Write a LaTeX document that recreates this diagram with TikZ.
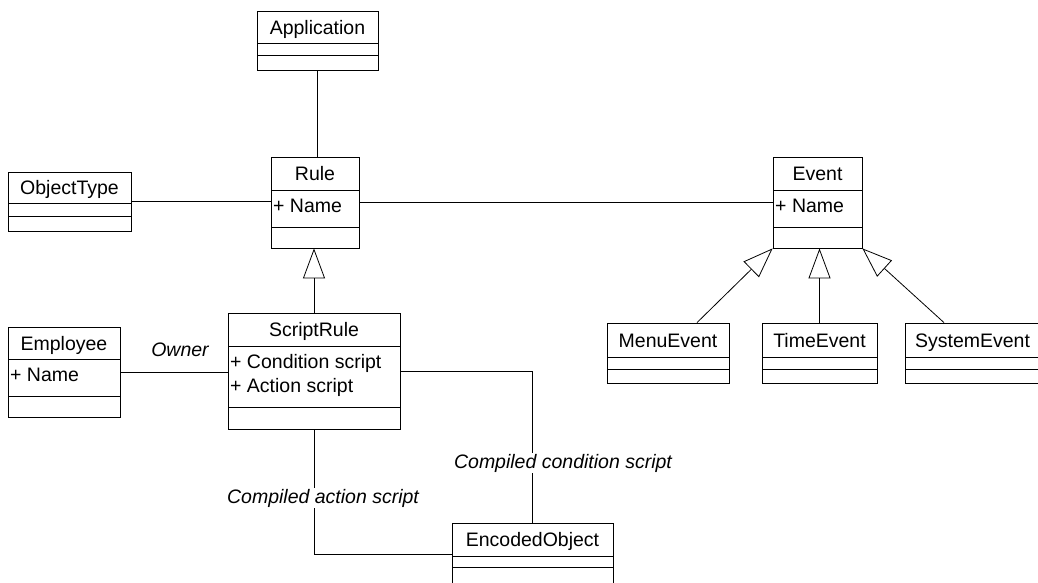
\documentclass[tikz,border=0pt]{standalone}
\usepackage{fontspec}
\setmainfont{Liberation Sans}
\usetikzlibrary{arrows.meta,fit}
\tikzset{
 box/.style={draw, line width=0.8pt, inner sep=0pt},
 sepline/.style={line width=0.8pt},
 conn/.style={line width=0.8pt},
 gen/.style={conn, -{Triangle[open, length=30pt, width=22pt, line width=0.8pt]}},
 ttl/.style={anchor=base, inner sep=0pt, font=\fontsize{19.5}{23}\selectfont},
 attr/.style={anchor=base west, inner sep=0pt, font=\fontsize{19.5}{23}\selectfont},
 lbl/.style={font=\fontsize{19.5}{23}\selectfont\itshape, inner sep=1pt},
 lblw/.style={lbl, fill=white},
}
\newcommand\umlclass[8]{%
 \node[box, fit={(#2,#3)(#4,#7)}] (#1) {};
 \draw[sepline] (#2,#5) -- (#4,#5);
 \draw[sepline] (#2,#6) -- (#4,#6);
 \node[ttl] (#1-t) at ({(#2+#4)/2},{(#3+#5)/2+7}) {#8};
}
\begin{document}
\begin{tikzpicture}[x=1pt,y=-1pt]
\useasboundingbox (0,0) rectangle (1038,582);
\begin{scope}
\clip (0,0) rectangle (1038,582);
% classes: name, left, top, right, line1, line2, bottom, title
\umlclass{app}{257}{11}{378}{43}{55}{70}{Application}
\umlclass{rule}{271}{157}{359}{190}{227}{248}{Rule}
\umlclass{event}{773}{157}{862}{190}{227}{248}{Event}
\umlclass{ot}{8}{172}{131}{203}{216}{231}{ObjectType}
\umlclass{emp}{8}{327}{120}{359}{396}{417}{Employee}
\umlclass{sr}{228}{313}{400}{346}{407}{429}{ScriptRule}
\umlclass{me}{607}{323}{729}{357}{369}{383}{MenuEvent}
\umlclass{te}{762}{323}{877}{357}{369}{383}{TimeEvent}
\umlclass{se}{905}{323}{1040}{357}{369}{383}{SystemEvent}
\umlclass{eo}{452}{523}{613}{556}{567}{585}{EncodedObject}
% attributes
\node[attr] (rule-a1) at (273,212) {+ Name};
\node[attr] (event-a1) at (775,212) {+ Name};
\node[attr] (emp-a1) at (10,381) {+ Name};
\node[attr] (sr-a1) at (230,368) {+ Condition script};
\node[attr] (sr-a2) at (230,392) {+ Action script};
% connectors
\draw[conn] (app.south) -- (app.south |- rule.north);
\draw[conn] (ot.east) -- (ot.east -| rule.west);
\draw[conn] (rule.east) -- (rule.east -| event.west);
\draw[conn] (emp.east) -- (emp.east -| sr.west);
\draw[gen] (sr.north) -- (sr.north |- rule.south);
\draw[gen] ([xshift=29pt]me.north) -- (event.south west);
\draw[gen] (te.north) -- (te.north |- event.south);
\draw[gen] ([xshift=-28.5pt]se.north) -- (event.south east);
\draw[conn] (sr.east) -| (eo.north);
\draw[conn] (sr.south) |- (eo.west);
% labels
\node[lbl] (owner) at (180,350) {Owner};
\node[lblw] (lcond) at (563,463) {Compiled condition script};
\node[lblw] (lact) at (323,498) {Compiled action script};
\end{scope}
\end{tikzpicture}
\end{document}
